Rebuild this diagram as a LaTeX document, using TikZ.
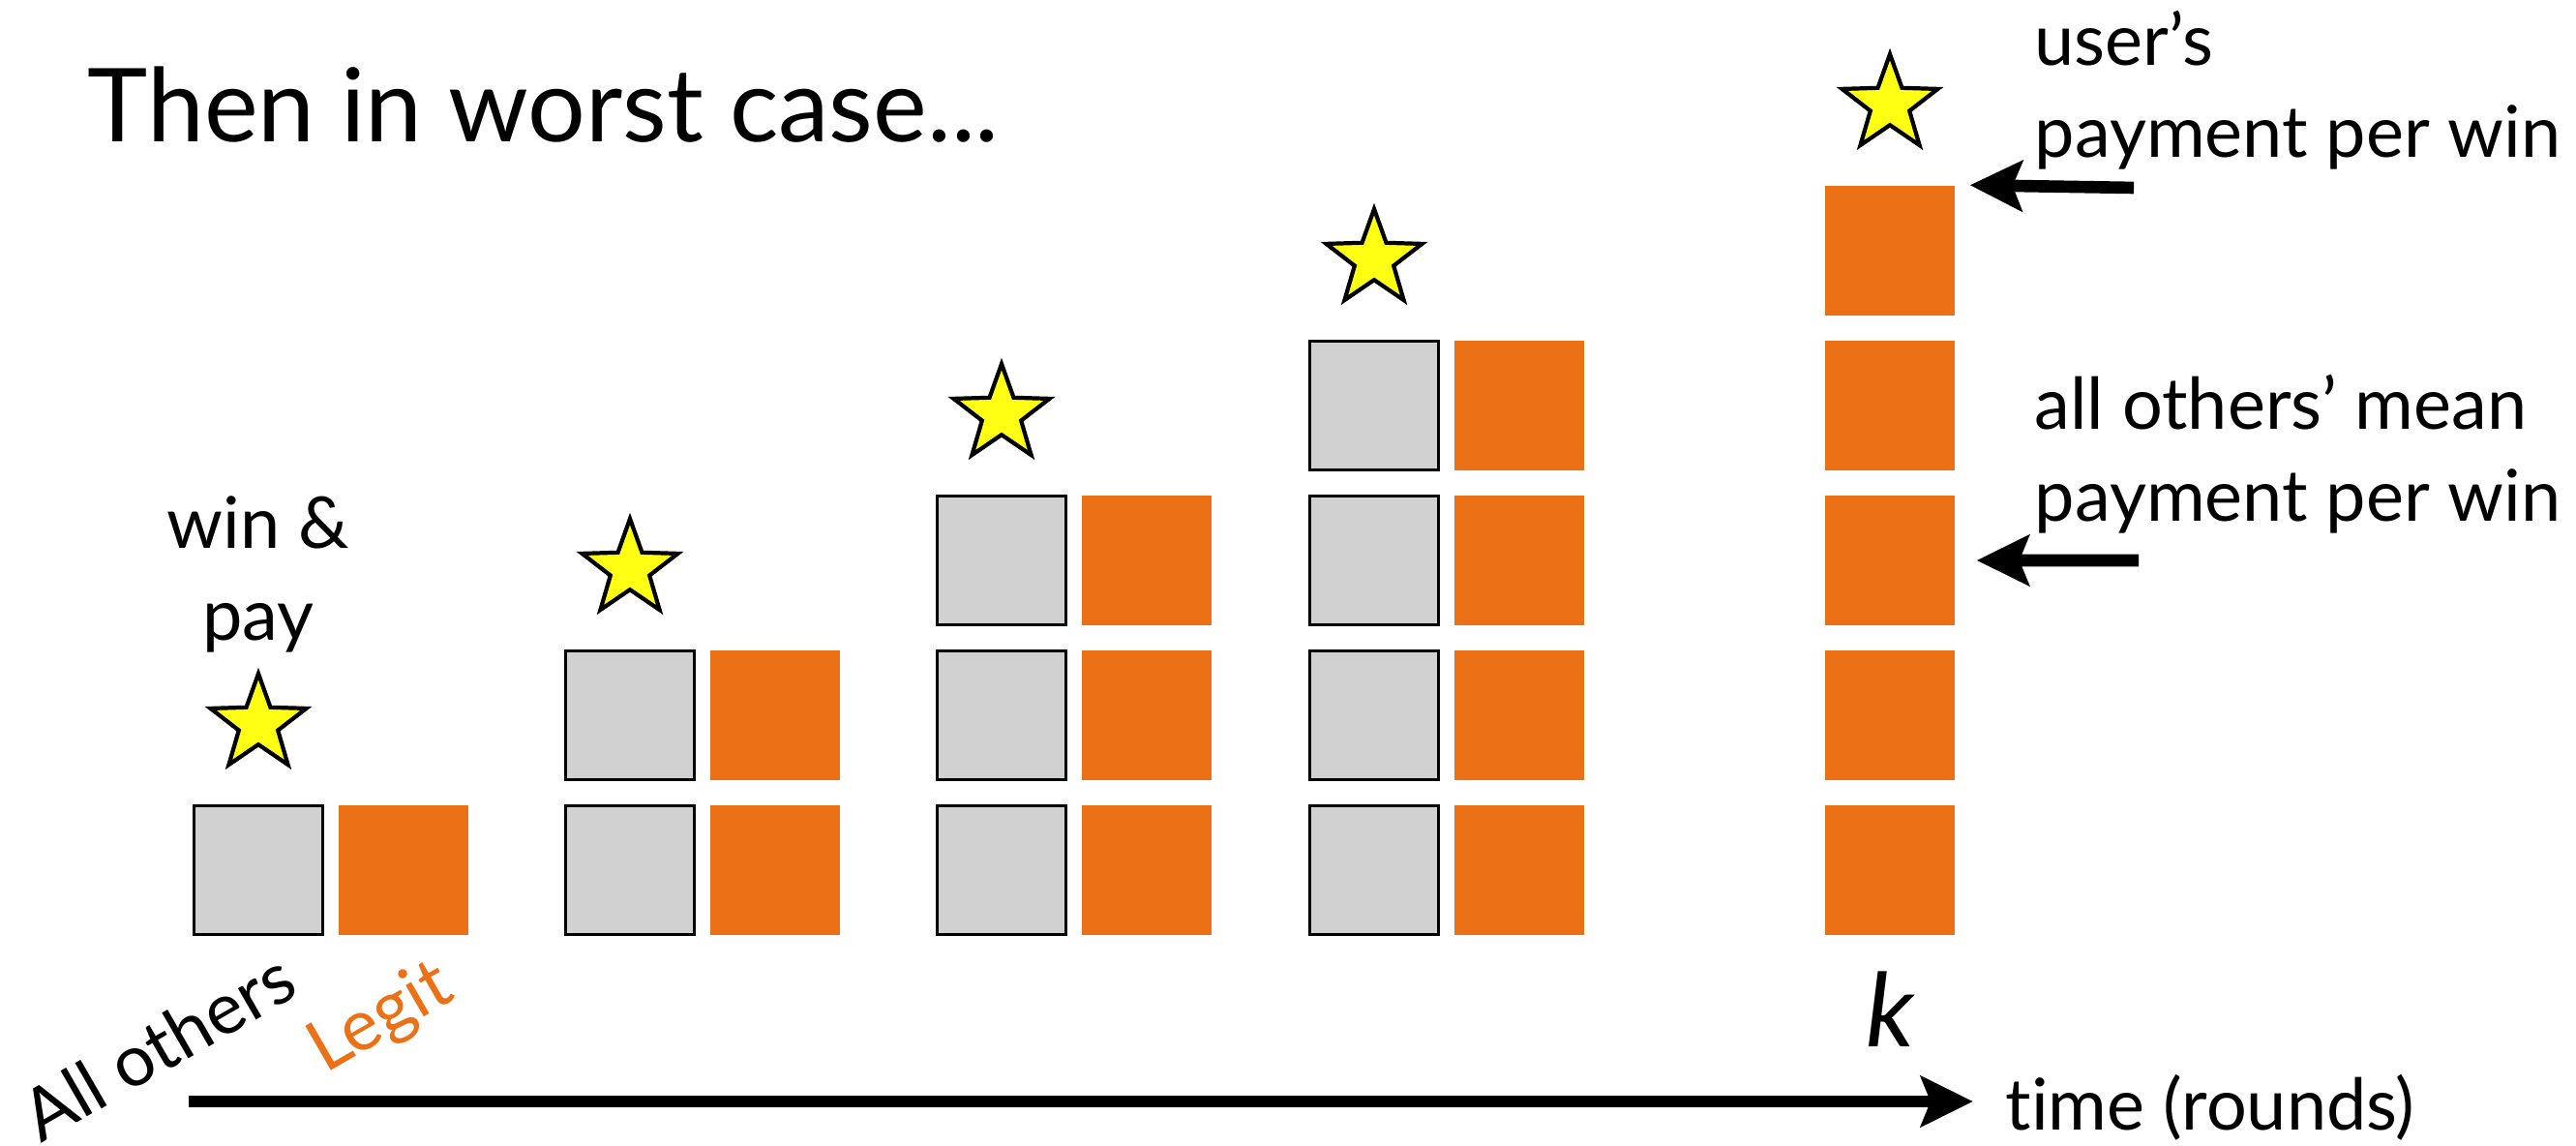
\documentclass[tikz,border=0pt]{standalone}
\usepackage{fontspec}
\setmainfont[Ligatures={TeX,NoCommon}]{Lato}
\usepackage{tikz}
\usetikzlibrary{arrows.meta, shapes.geometric}

\definecolor{legitorange}{RGB}{236,112,22}
\definecolor{othersgray}{RGB}{209,209,209}
\definecolor{staryellow}{RGB}{255,255,20}

\begin{document}
\begin{tikzpicture}[node distance={16mm},
        others/.style = {draw, line width=0.6pt, fill=othersgray, minimum size=13.3mm, inner sep=0pt},
        legit/.style = {fill=legitorange, minimum size=13.4mm, inner sep=0pt},
        winstar/.style = {star, star points=5, star point ratio=2.45, draw, line width=1.2pt, fill=staryellow, minimum size=10.4mm, inner sep=0pt},
        note/.style = {inner sep=0pt, font=\fontsize{21}{27}\selectfont},
        big/.style = {inner sep=0pt, font=\fontsize{30}{36}\selectfont},
        pointer/.style = {line width=3.6pt, -{Stealth[length=5.4mm, width=5.2mm, inset=1mm]}}]
            \useasboundingbox (0,0) rectangle (26.62,11.84);

            \node[big, anchor=base west] (title) at (0.90,10.37) {Then in worst case...};

            \node[others] (G1R1) at (2.67,2.85) {};
            \node[legit] (L1R1) [right of=G1R1, node distance=15mm] {};
            \node[winstar] (S1) [above of=G1R1, node distance=15.1mm] {};
            \node[note, align=center] (winpay) [above of=S1, node distance=15.5mm] {win \&\\pay};

            \node[others] (G2R1) at (6.51,2.85) {};
            \node[others] (G2R2) [above of=G2R1] {};
            \node[legit] (L2R1) [right of=G2R1, node distance=15mm] {};
            \node[legit] (L2R2) [above of=L2R1] {};
            \node[winstar] (S2) [above of=G2R2, node distance=15.1mm] {};

            \node[others] (G3R1) at (10.35,2.85) {};
            \node[others] (G3R2) [above of=G3R1] {};
            \node[others] (G3R3) [above of=G3R2] {};
            \node[legit] (L3R1) [right of=G3R1, node distance=15mm] {};
            \node[legit] (L3R2) [above of=L3R1] {};
            \node[legit] (L3R3) [above of=L3R2] {};
            \node[winstar] (S3) [above of=G3R3, node distance=15.1mm] {};

            \node[others] (G4R1) at (14.20,2.85) {};
            \node[others] (G4R2) [above of=G4R1] {};
            \node[others] (G4R3) [above of=G4R2] {};
            \node[others] (G4R4) [above of=G4R3] {};
            \node[legit] (L4R1) [right of=G4R1, node distance=15mm] {};
            \node[legit] (L4R2) [above of=L4R1] {};
            \node[legit] (L4R3) [above of=L4R2] {};
            \node[legit] (L4R4) [above of=L4R3] {};
            \node[winstar] (S4) [above of=G4R4, node distance=15.1mm] {};

            \node[legit] (L5R1) at (19.53,2.85) {};
            \node[legit] (L5R2) [above of=L5R1] {};
            \node[legit] (L5R3) [above of=L5R2] {};
            \node[legit] (L5R4) [above of=L5R3] {};
            \node[legit] (L5R5) [above of=L5R4] {};
            \node[winstar] (S5) [above of=L5R5, node distance=15.1mm] {};
            \node[big, font=\fontsize{30}{36}\selectfont\itshape] (kk) [below of=L5R1, node distance=14.4mm] {k};

            \node[note, align=left, anchor=north west] (userpay) at (21.02,11.74) {user's\\payment per win};
            \node[note, align=left, anchor=north west] (meanpay) at (21.02,7.98) {all others' mean\\payment per win};
            \coordinate (U0) at (22.05,9.90);
            \coordinate (M0) at (22.10,6.05);
            \path[pointer] (U0) edge ([xshift=1.5mm]L5R5.north east);
            \path[pointer] (M0) edge ([xshift=2.2mm]L5R3.east);

            \node[note, rotate=30] (allothers) at (1.63,1.03) {All others};
            \node[note, rotate=30, text=legitorange] (legitname) at (3.94,1.31) {Legit};

            \coordinate (T0) at (1.95,0.46);
            \coordinate (T1) at (20.39,0.46);
            \node[note, anchor=base west] (time) at (20.72,0.16) {time (rounds)};
            \path[pointer] (T0) edge (T1);
        \end{tikzpicture}
\end{document}
